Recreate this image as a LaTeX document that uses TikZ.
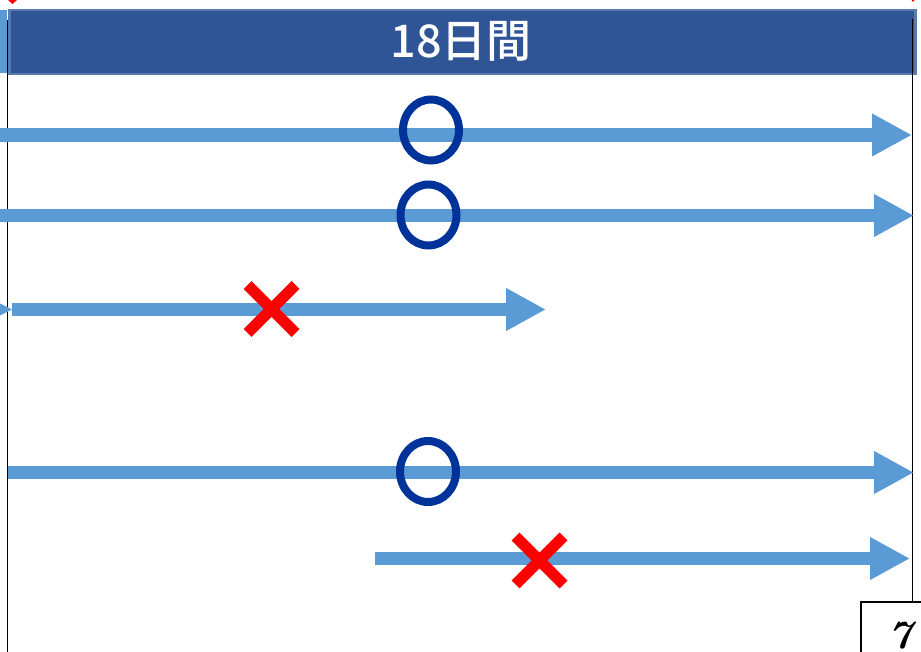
\documentclass[tikz,border=0pt]{standalone}
\usepackage{fontspec}
\newfontfamily\cjkfont{Noto Sans CJK JP Medium}
\usetikzlibrary{arrows.meta,shapes.geometric,shapes.misc}
\definecolor{arrowblue}{RGB}{91,155,213}
\definecolor{headblue}{RGB}{47,85,151}
\definecolor{headedge}{RGB}{88,122,172}
\definecolor{okblue}{RGB}{0,51,153}
\definecolor{ngred}{RGB}{255,0,0}
\tikzset{
  flow/.style={draw=arrowblue, line width=13.5pt,
    -{Triangle[length=40pt,width=40pt]}},
  okmark/.style={draw=okblue, line width=8pt, ellipse, inner sep=0pt,
    minimum width=56pt, minimum height=61pt},
  ngmark/.style={draw=ngred, line width=11pt, cross out, inner sep=0pt,
    minimum size=37pt},
  guide/.style={draw=black, line width=1.2pt},
}
\begin{document}
\begin{tikzpicture}[x=1pt,y=-1pt]
\useasboundingbox (0,0) rectangle (921,652);
\begin{scope}
\clip (0,0) rectangle (921,652);
% left strip of a previous header
\fill[arrowblue] (-10,10) rectangle (7,73);
% header
\node[fill=headblue, draw=headedge, line width=2.5pt, minimum width=906pt,
  minimum height=64pt, inner sep=0pt, anchor=north west] (header) at (8,9) {};
\node[text=white, font=\cjkfont\fontsize{45}{50}\selectfont] (title) at (461,41) {18日間};
% guide lines
\coordinate (L1) at (7.3,20);
\coordinate (L2) at (7.3,660);
\coordinate (R1) at (912.7,19);
\coordinate (R2) at (912.7,601);
\draw[guide] (L1) -- (L2);
\draw[guide] (R1) -- (R2);
% page number box
\node[draw=black, line width=2pt, anchor=north west, minimum width=70pt,
  minimum height=60pt, inner sep=0pt] (pgbox) at (859.5,601) {};
\node[font=\rmfamily\bfseries\itshape\fontsize{40}{46}\selectfont, anchor=base, inner sep=0pt] (pgnum) at (900,648) {7};
% arrows
\coordinate (a1s) at (-5,135);   \coordinate (a1e) at (912,135);
\coordinate (a2s) at (-5,215.5); \coordinate (a2e) at (914,215.5);
\coordinate (a3s) at (12,309.5); \coordinate (a3e) at (546,309.5);
\coordinate (a4s) at (8,472.5);  \coordinate (a4e) at (914,472.5);
\coordinate (a5s) at (375,558.5);\coordinate (a5e) at (910,558.5);
\draw[flow] (a1s) -- (a1e);
\draw[flow] (a2s) -- (a2e);
\draw[flow] (a3s) -- (a3e);
\draw[flow] (a4s) -- (a4e);
\draw[flow] (a5s) -- (a5e);
% partial tip at the left
\fill[arrowblue] (-28,289.5) -- (12,309.5) -- (-28,329.5) -- cycle;
% marks
\node[okmark] (ok1) at (431,130) {};
\node[okmark] (ok2) at (428.5,215) {};
\node[okmark] (ok3) at (428,471.5) {};
\node[ngmark] (ng1) at (271.5,309) {};
\node[ngmark] (ng2) at (539.5,560.5) {};
% red bits at the top edge
\fill[ngred] (8,0) -- (17,0) -- (12.5,4) -- cycle;
\fill[ngred] (911.5,0) -- (914.5,0) -- (913,2) -- cycle;
\end{scope}
\end{tikzpicture}
\end{document}
